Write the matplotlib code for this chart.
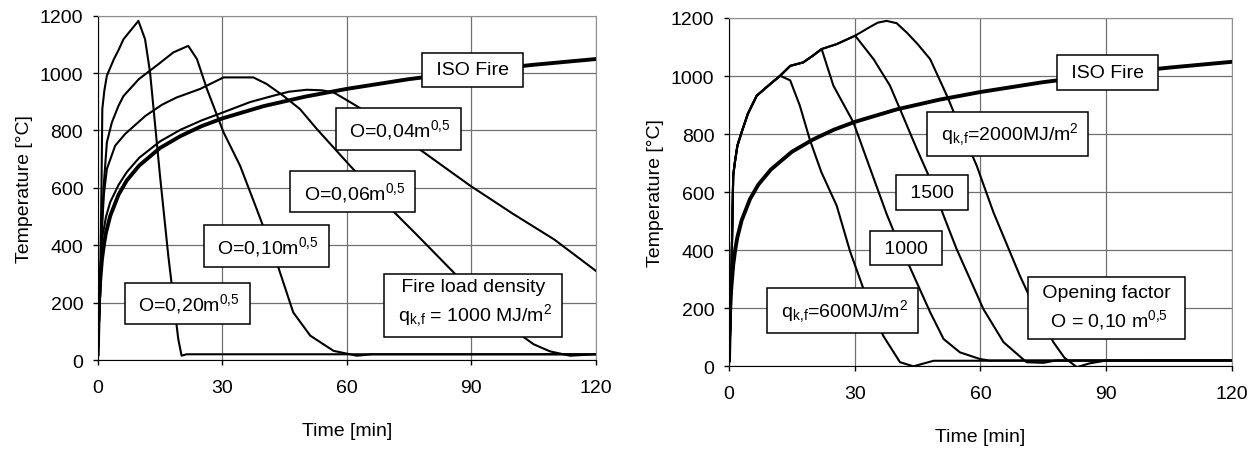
import matplotlib
matplotlib.use("Agg")
import matplotlib.pyplot as plt

plt.rcParams['font.family'] = ['Liberation Sans', 'DejaVu Sans']
plt.rcParams['mathtext.fontset'] = 'custom'
plt.rcParams['mathtext.rm'] = 'Liberation Sans'
plt.rcParams['mathtext.it'] = 'Liberation Sans'

# ISO 834 standard fire
iso_t = [0, 0.25, 0.5, 1, 1.5, 2, 3, 5, 7, 10, 15, 20, 25, 30, 40, 50, 60, 75, 90, 105, 120]
iso_T = [20, 185, 261, 349, 404, 445, 502, 576, 626, 678, 739, 781, 815, 842, 885, 918, 945, 979, 1006, 1029, 1049]

# left: fire load 1000 MJ/m2, varying opening factor
o20_t = [0, 0.6, 0.9, 1.1, 1.6, 2.2, 3.9, 5.0, 6.2, 8.0, 9.8, 11.4, 12.6, 15.0, 17.0, 19.4, 20.2, 21.4, 120]
o20_T = [20, 300, 600, 875, 940, 991, 1049, 1080, 1118, 1150, 1182, 1118, 1003, 642, 363, 73, 15, 20, 20]

o10_t = [0, 0.6, 1.0, 1.4, 2.2, 3.4, 5.0, 6.2, 9.9, 14.7, 18.2, 21.8, 23.9, 26.3, 30.3, 34.3, 38.3, 43.1, 47.1, 51.2, 56.8, 62.4, 66, 120]
o10_T = [20, 240, 460, 600, 759, 828, 886, 920, 979, 1032, 1072, 1095, 1049, 945, 794, 677, 526, 341, 166, 85, 32, 15, 20, 20]

o06_t = [0, 0.6, 1.0, 1.5, 2.2, 4.2, 6.6, 11.5, 15.5, 19.0, 24.7, 30.3, 37.5, 40.7, 44.7, 48.7, 52.8, 60.8, 70.4, 76.9, 85.7, 93, 101, 105, 109, 113.8, 120]
o06_T = [20, 240, 460, 580, 666, 747, 788, 851, 890, 915, 945, 985, 985, 962, 921, 875, 805, 677, 530, 436, 306, 195, 97, 55, 30, 15, 20]

o04_t = [0, 0.6, 1.0, 2, 3, 5, 7, 10, 15, 20, 25, 30, 36.7, 42, 46, 50.4, 54, 56.8, 60.8, 64.8, 70, 76.9, 89.7, 100, 110, 120]
o04_T = [20, 240, 420, 500, 550, 610, 655, 705, 762, 803, 835, 862, 899, 920, 935, 942, 940, 933, 899, 864, 810, 741, 608, 510, 420, 311]

# right: opening factor 0.10, varying fire load
q600_t = [0, 0.3, 0.6, 1.0, 1.4, 2.0, 3.0, 4.5, 6.6, 9.8, 12.2, 14.6, 16.9, 19.3, 22.0, 25.7, 28.9, 32.1, 36.8, 40.8, 44.0, 48.8, 120]
q600_T = [20, 128, 335, 657, 703, 760, 806, 870, 932, 972, 1001, 985, 898, 780, 670, 553, 395, 266, 105, 14, 0, 19, 20]

q1000_t = [0, 0.3, 0.6, 1.0, 1.4, 2.0, 3.0, 4.5, 6.6, 9.8, 12.2, 14.6, 17.7, 20.0, 22.1, 24.9, 29.7, 33.7, 37.6, 40.0, 43.2, 48.0, 51.2, 55.1, 59.9, 62, 120]
q1000_T = [20, 128, 335, 657, 703, 760, 806, 870, 932, 972, 1001, 1035, 1047, 1070, 1093, 967, 840, 680, 525, 440, 340, 186, 94, 48, 25, 20, 20]

q1500_t = [0, 0.3, 0.6, 1.0, 1.4, 2.0, 3.0, 4.5, 6.6, 9.8, 12.2, 14.6, 17.7, 20.0, 22.1, 25.7, 30.1, 34.5, 38.4, 40.8, 44.8, 48.0, 51.2, 54.3, 60.7, 65.5, 71, 75, 78, 120]
q1500_T = [20, 128, 335, 657, 703, 760, 806, 870, 932, 972, 1001, 1035, 1047, 1070, 1093, 1110, 1139, 1058, 967, 886, 749, 645, 519, 404, 197, 83, 14, 12, 20, 20]

q2000_t = [0, 0.3, 0.6, 1.0, 1.4, 2.0, 3.0, 4.5, 6.6, 9.8, 12.2, 14.6, 17.7, 20.0, 22.1, 25.7, 30.1, 33.5, 35.5, 37.6, 40, 42.4, 45, 48, 52, 54.3, 59.1, 63.1, 69.4, 73, 77.4, 80, 83, 86, 90, 120]
q2000_T = [20, 128, 335, 657, 703, 760, 806, 870, 932, 972, 1001, 1035, 1047, 1070, 1093, 1110, 1139, 1168, 1184, 1190, 1182, 1150, 1110, 1058, 932, 852, 691, 530, 312, 200, 83, 30, -3, 10, 20, 20]

left_curves = [(o20_t, o20_T), (o10_t, o10_T), (o06_t, o06_T), (o04_t, o04_T)]
right_curves = [(q600_t, q600_T), (q1000_t, q1000_T), (q1500_t, q1500_T), (q2000_t, q2000_T)]

sup = r"$^{\mathrm{0{,}5}}$"
qkf = r"q$_{\mathrm{k{,}f}}$"
left_labels = [
    ("ISO Fire", 90.3, 1011),
    ("O=0,04m" + sup, 72.4, 805),
    ("O=0,06m" + sup, 61.4, 587),
    ("O=0,10m" + sup, 40.6, 398),
    ("O=0,20m" + sup, 21.6, 197),
    ("Fire load density\n" + qkf + r" = 1000 MJ/m$^{\mathrm{2}}$", 90.4, 198),
]
right_labels = [
    ("ISO Fire", 90.3, 1013),
    (qkf + r"=2000MJ/m$^{\mathrm{2}}$", 66.5, 801),
    ("1500", 48.5, 598),
    ("1000", 42.2, 407),
    (qkf + r"=600MJ/m$^{\mathrm{2}}$", 27.1, 192),
    ("Opening factor\nO = 0,10 m" + sup, 90.1, 203),
]

fig = plt.figure(figsize=(12.58, 4.52), dpi=100)
ax1 = fig.add_axes([0.0777, 0.2013, 0.3959, 0.7617])
ax2 = fig.add_axes([0.5795, 0.1874, 0.3998, 0.7706])

fs = 14
for ax, curves, labels in [(ax1, left_curves, left_labels), (ax2, right_curves, right_labels)]:
    for t, T in curves:
        ax.plot(t, T, color='black', lw=1.5, zorder=3, solid_joinstyle='round')
    ax.plot(iso_t, iso_T, color='black', lw=2.8, zorder=3)
    for txt, x, y in labels:
        ax.text(x, y, " " + txt.replace("\n", " \n ") + " ", ha='center', va='center',
                fontsize=fs, zorder=5, linespacing=1.3,
                bbox=dict(boxstyle='square,pad=0.45', fc='white', ec='black', lw=1.1))
    ax.set_xlim(0, 120)
    ax.set_ylim(0, 1200)
    ax.set_xticks([0, 30, 60, 90, 120])
    ax.set_yticks(range(0, 1201, 200))
    ax.grid(True, color='#707070', lw=0.9, zorder=1)
    ax.set_axisbelow(True)
    ax.tick_params(labelsize=fs, length=3.5, width=1, color='black')
    ax.tick_params(axis='x', pad=10)
    ax.tick_params(axis='y', pad=7)
    ax.spines['left'].set_color('black')
    ax.spines['bottom'].set_color('black')
    ax.spines['top'].set_color('#909090')
    ax.spines['right'].set_color('#909090')
    ax.set_xlabel("Time [min]", fontsize=fs, labelpad=19)
    ax.set_ylabel("Temperature [°C]", fontsize=fs, labelpad=5)

fig.savefig("out.png", dpi=100)
